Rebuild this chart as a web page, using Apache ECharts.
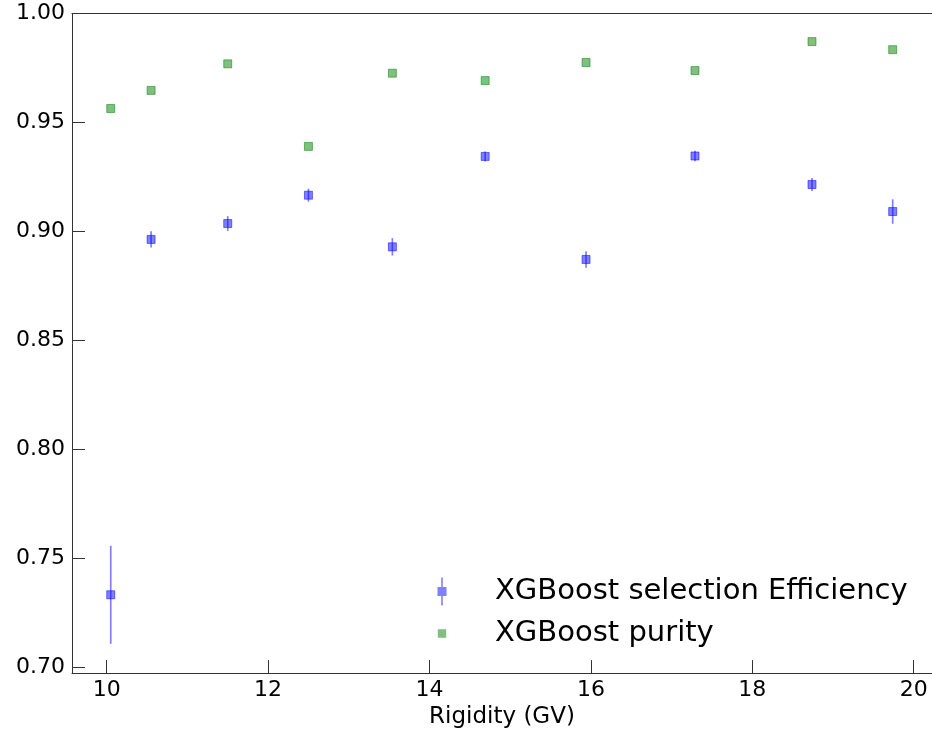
<!DOCTYPE html>
<html>
<head>
<meta charset="utf-8">
<script src="https://cdn.jsdelivr.net/npm/echarts@6/dist/echarts.min.js"></script>
<style>
  html, body { margin: 0; padding: 0; background: #fff; }
  #chart { width: 932px; height: 734px; }
</style>
</head>
<body>
<div id="chart"></div>
<script>
// values
var rigidity = [10.05, 10.55, 11.50, 12.50, 13.54, 14.69, 15.94, 17.29, 18.74, 19.74];
var efficiency = [0.7332, 0.8963, 0.9036, 0.9166, 0.8929, 0.9344, 0.8871, 0.9346, 0.9215, 0.9091];
var efficiencyErr = [0.0225, 0.0037, 0.0034, 0.0030, 0.0040, 0.0023, 0.0038, 0.0024, 0.0030, 0.0056];
var purity = [0.9564, 0.9647, 0.9769, 0.9390, 0.9726, 0.9692, 0.9775, 0.9738, 0.9871, 0.9834];

var effName = 'XGBoost selection Efficiency';
var purName = 'XGBoost purity';

var effPoints = rigidity.map(function (x, i) { return [x, efficiency[i]]; });
var effBars = rigidity.map(function (x, i) {
    return [x, efficiency[i] - efficiencyErr[i], efficiency[i] + efficiencyErr[i]];
});
var purPoints = rigidity.map(function (x, i) { return [x, purity[i]]; });

var font = 'DejaVu Sans';
var blue = 'rgba(0,0,255,0.5)';
var green = 'rgba(0,128,0,0.5)';

// legend icons in a 10x28 box (tiny corner dots keep the box size)
var corners = 'M0,0h0.01v0.01h-0.01Z M9.99,27.99h0.01v0.01h-0.01Z ';
var effIcon = 'path://' + corners + 'M4.2,0H5.8V9.5H9.5V18.5H5.8V28H4.2V18.5H0.5V9.5H4.2Z';
var purIcon = 'path://' + corners + 'M0.8,9.8H9.2V18.2H0.8Z';

var chart = echarts.init(document.getElementById('chart'));

var option = {
    animation: false,
    backgroundColor: '#fff',
    grid: { left: 72, top: 13.5, width: 860, height: 661.5 },
    legend: {
        orient: 'vertical',
        left: 437,
        top: 577,
        padding: 0,
        itemWidth: 10,
        itemHeight: 28,
        itemGap: 13,
        textStyle: {
            fontFamily: font, fontSize: 29, lineHeight: 29, color: '#000',
            padding: [0, 0, 0, 43]
        },
        data: [
            { name: effName, icon: effIcon, itemStyle: { color: blue, borderWidth: 0 } },
            { name: purName, icon: purIcon, itemStyle: { color: green, borderWidth: 0 } }
        ]
    },
    xAxis: [
        {
            type: 'value',
            min: 9.570,
            max: 20.227,
            minInterval: 2,
            maxInterval: 2,
            name: 'Rigidity (GV)',
            nameLocation: 'middle',
            nameGap: 31,
            nameTextStyle: { fontFamily: font, fontSize: 23, color: '#000' },
            axisLine: { show: true, lineStyle: { color: '#333', width: 1 } },
            axisTick: { show: true, inside: true, length: 13, lineStyle: { color: '#333' } },
            axisLabel: {
                fontFamily: font, fontSize: 22, color: '#000', margin: 6,
                showMinLabel: false, showMaxLabel: false
            },
            splitLine: { show: false }
        },
        {
            type: 'value',
            position: 'top',
            min: 9.570,
            max: 20.227,
            axisLine: { show: true, lineStyle: { color: '#333', width: 1 } },
            axisTick: { show: false },
            axisLabel: { show: false },
            splitLine: { show: false }
        }
    ],
    yAxis: {
        type: 'value',
        min: 0.69725,
        max: 1.0,
        minInterval: 0.05,
        maxInterval: 0.05,
        axisLine: { show: true, lineStyle: { color: '#333', width: 1 } },
        axisTick: { show: true, inside: true, length: 13, lineStyle: { color: '#333' } },
        axisLabel: {
            fontFamily: font, fontSize: 22, color: '#000', margin: 7,
            showMinLabel: false,
            formatter: function (v) { return v.toFixed(2); }
        },
        splitLine: { show: false }
    },
    series: [
        {
            name: effName,
            type: 'custom',
            xAxisIndex: 0,
            z: 1,
            encode: { x: 0, y: [1, 2] },
            data: effBars,
            renderItem: function (params, api) {
                var x = api.value(0);
                var lo = api.coord([x, api.value(1)]);
                var hi = api.coord([x, api.value(2)]);
                return {
                    type: 'line',
                    shape: { x1: lo[0], y1: lo[1], x2: hi[0], y2: hi[1] },
                    style: { stroke: blue, lineWidth: 1.7 }
                };
            }
        },
        {
            name: effName,
            type: 'scatter',
            xAxisIndex: 0,
            z: 2,
            symbol: 'rect',
            symbolSize: 8,
            itemStyle: { color: blue, borderColor: blue, borderWidth: 1, opacity: 1 },
            data: effPoints
        },
        {
            name: purName,
            type: 'scatter',
            xAxisIndex: 0,
            z: 2,
            symbol: 'rect',
            symbolSize: 8,
            itemStyle: { color: green, borderColor: green, borderWidth: 1, opacity: 1 },
            data: purPoints
        }
    ]
};

chart.setOption(option);
</script>
</body>
</html>
